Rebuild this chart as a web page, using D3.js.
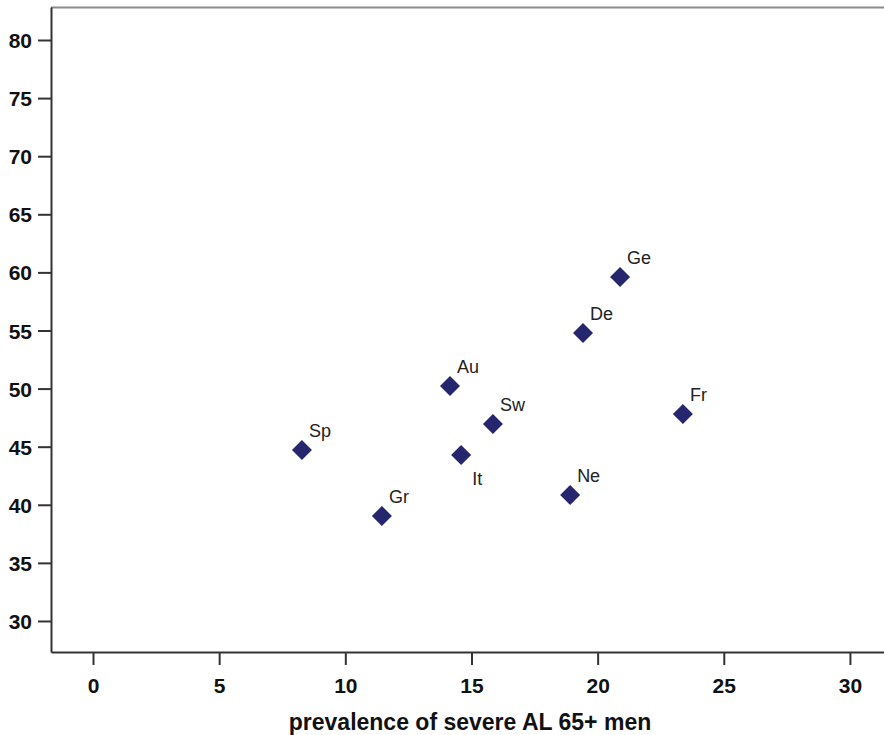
<!DOCTYPE html>
<html>
<head>
<meta charset="utf-8">
<script src="https://cdn.jsdelivr.net/npm/d3@7"></script>
<style>
  html, body { margin: 0; padding: 0; background: #fff; }
  svg { display: block; }
  .tick text { font-family: "Liberation Sans Narrow", "Arial Narrow", "Liberation Sans", Arial, sans-serif; font-weight: bold; font-size: 21px; fill: #111; }
  .ptlabel { font-family: "Liberation Sans", Arial, sans-serif; font-size: 18px; fill: #222; }
  .axtitle { font-family: "Liberation Sans", Arial, sans-serif; font-weight: bold; font-size: 23px; fill: #111; }
</style>
</head>
<body>
<script>
// Data
const countries = ["Sp", "Gr", "Au", "It", "Sw", "Ne", "De", "Ge", "Fr"];
const prevalenceMen = [8.28, 11.45, 14.15, 14.59, 15.85, 18.91, 19.42, 20.89, 23.38];
const yValues = [44.72, 39.04, 50.22, 44.29, 46.95, 40.84, 54.78, 59.6, 47.81];
const xTicks = [0, 5, 10, 15, 20, 25, 30];
const yTicks = [30, 35, 40, 45, 50, 55, 60, 65, 70, 75, 80];
const xTitle = "prevalence of severe AL 65+ men";

(function () {
const W = 884, H = 735;
const mLeft = 51, mTop = 7, mBottom = 652, mRight = 884;

const svg = d3.select("body").append("svg").attr("width", W).attr("height", H);

const x = d3.scaleLinear().domain([-1.665, 31.35]).range([mLeft, mRight]);
const y = d3.scaleLinear().domain([27.33, 82.84]).range([mBottom, mTop]);

// top border
svg.append("line")
  .attr("x1", mLeft).attr("x2", mRight)
  .attr("y1", mTop + 0.5).attr("y2", mTop + 0.5)
  .attr("stroke", "#8a8a8a").attr("stroke-width", 2);

const gx = svg.append("g").attr("transform", `translate(0,${mBottom})`)
  .call(d3.axisBottom(x).tickValues(xTicks).tickSizeOuter(0).tickSizeInner(13).tickPadding(8).tickFormat(d3.format("d")));
const gy = svg.append("g").attr("transform", `translate(${mLeft},0)`)
  .call(d3.axisLeft(y).tickValues(yTicks).tickSizeOuter(0).tickSizeInner(13).tickPadding(6).tickFormat(d3.format("d")));

[gx, gy].forEach(g => {
  g.select(".domain").attr("stroke", "#333").attr("stroke-width", 2);
  g.selectAll(".tick line").attr("stroke", "#333").attr("stroke-width", 2);
});
gx.selectAll(".tick text").attr("dy", "0.95em");
gy.selectAll(".tick text").attr("dy", "0.36em");

// points
const pts = countries.map((c, i) => ({ c, xv: prevalenceMen[i], yv: yValues[i] }));
const diamond = d3.symbol().type(d3.symbolSquare).size(200);
svg.append("g").selectAll("path").data(pts).join("path")
  .attr("d", diamond)
  .attr("transform", d => `translate(${x(d.xv)},${y(d.yv)}) rotate(45)`)
  .attr("fill", "#26266e");

const below = new Set(["It"]);
svg.append("g").selectAll("text").data(pts).join("text")
  .attr("class", "ptlabel")
  .attr("x", d => x(d.xv) + (below.has(d.c) ? 11 : 7))
  .attr("y", d => y(d.yv) + (below.has(d.c) ? 30 : -13))
  .text(d => d.c);

svg.append("text").attr("class", "axtitle")
  .attr("x", 470).attr("y", 730)
  .attr("text-anchor", "middle")
  .text(xTitle);
})();
</script>
</body>
</html>
